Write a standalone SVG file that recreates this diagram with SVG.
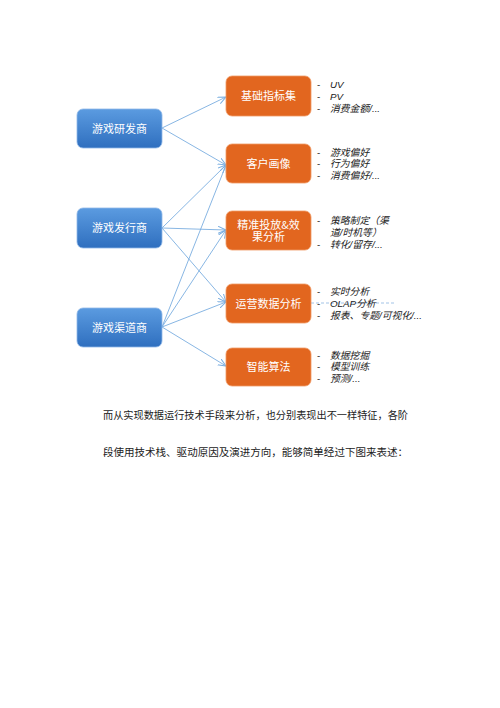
<svg xmlns="http://www.w3.org/2000/svg" width="500" height="708" viewBox="0 0 500 708">
<defs>
<linearGradient id="gb" x1="0" y1="0" x2="0" y2="1">
<stop offset="0" stop-color="#5b9be0"/>
<stop offset="1" stop-color="#2f6fbf"/>
</linearGradient>
<marker id="ar" markerWidth="10" markerHeight="8" refX="8" refY="4" orient="auto" markerUnits="userSpaceOnUse">
<path d="M0,0.5 L8,4 L0,7.5" fill="none" stroke="#7aaee0" stroke-width="1"/>
</marker>
</defs>
<style>
.blue{fill:url(#gb);stroke:#8fb8e8;stroke-width:0.8}
.org{fill:#e2661f;stroke:#f09a66;stroke-width:0.8}
.nt{font-family:"Noto Sans CJK SC","Liberation Sans",sans-serif;font-size:11px;fill:#ffffff;text-anchor:middle}
.lb{font-family:"Liberation Sans","Noto Sans CJK SC",sans-serif;font-size:9.8px;font-style:italic;fill:#222222}
.ds{font-family:"Liberation Sans",sans-serif;font-size:9.8px;fill:#222222}
.body{font-family:"Noto Sans CJK SC","Liberation Sans",sans-serif;font-size:10.2px;fill:#222222}
.ln{fill:none;stroke:#7aaee0;stroke-width:0.9;marker-end:url(#ar)}
</style>
<rect width="500" height="708" fill="#ffffff"/>
<g id="connectors">
<line class="ln" x1="162" y1="128" x2="226" y2="97"/>
<line class="ln" x1="162" y1="128" x2="226" y2="165"/>
<line class="ln" x1="162" y1="228" x2="226" y2="165"/>
<line class="ln" x1="162" y1="228" x2="226" y2="230"/>
<line class="ln" x1="162" y1="228" x2="226" y2="302"/>
<line class="ln" x1="162" y1="327" x2="226" y2="165"/>
<line class="ln" x1="162" y1="327" x2="226" y2="230"/>
<line class="ln" x1="162" y1="327" x2="226" y2="302"/>
<line class="ln" x1="162" y1="327" x2="226" y2="366"/>
<line x1="311" y1="303" x2="394" y2="303" stroke="#8ab4e0" stroke-width="0.8" stroke-dasharray="3,2"/>
</g>
<g id="n-dev"><rect class="blue" x="77" y="109" width="85" height="39" rx="6"/><text class="nt" x="119.5" y="132.5">游戏研发商</text></g>
<g id="n-pub"><rect class="blue" x="77" y="208" width="85" height="40" rx="6"/><text class="nt" x="119.5" y="232">游戏发行商</text></g>
<g id="n-chn"><rect class="blue" x="77" y="308" width="85" height="39" rx="6"/><text class="nt" x="119.5" y="331.5">游戏渠道商</text></g>
<g id="n-base"><rect class="org" x="226" y="76" width="85" height="40" rx="6"/><text class="nt" x="268.5" y="100">基础指标集</text>
<text class="ds" x="317" y="87.5">-</text><text class="lb" x="330" y="87.5">UV</text>
<text class="ds" x="317" y="99.5">-</text><text class="lb" x="330" y="99.5">PV</text>
<text class="ds" x="317" y="111.5">-</text><text class="lb" x="330" y="111.5">消费金额/...</text></g>
<g id="n-user"><rect class="org" x="226" y="144" width="85" height="39" rx="6"/><text class="nt" x="268.5" y="167.5">客户画像</text>
<text class="ds" x="317" y="155.5">-</text><text class="lb" x="330" y="155.5">游戏偏好</text>
<text class="ds" x="317" y="167">-</text><text class="lb" x="330" y="167">行为偏好</text>
<text class="ds" x="317" y="178.5">-</text><text class="lb" x="330" y="178.5">消费偏好/...</text></g>
<g id="n-ad"><rect class="org" x="226" y="211" width="85" height="39" rx="6"/><text class="nt" x="268.5" y="228.5"><tspan x="268.5">精准投放&amp;效</tspan><tspan x="268.5" dy="12.5">果分析</tspan></text>
<text class="ds" x="317" y="223.5">-</text><text class="lb" x="330" y="223.5"><tspan x="330">策略制定（渠</tspan><tspan x="330" dy="12">道/时机等）</tspan></text>
<text class="ds" x="317" y="247.5">-</text><text class="lb" x="330" y="247.5">转化/留存/...</text></g>
<g id="n-ops"><rect class="org" x="226" y="284" width="85" height="39" rx="6"/><text class="nt" x="268.5" y="307.5">运营数据分析</text>
<text class="ds" x="317" y="294.5">-</text><text class="lb" x="330" y="294.5">实时分析</text>
<text class="ds" x="317" y="306.5">-</text><text class="lb" x="330" y="306.5">OLAP分析</text>
<text class="ds" x="317" y="318.5">-</text><text class="lb" x="330" y="318.5">报表、专题/可视化/...</text></g>
<g id="n-ai"><rect class="org" x="226" y="348" width="85" height="38" rx="6"/><text class="nt" x="268.5" y="371">智能算法</text>
<text class="ds" x="317" y="358.5">-</text><text class="lb" x="330" y="358.5">数据挖掘</text>
<text class="ds" x="317" y="370">-</text><text class="lb" x="330" y="370">模型训练</text>
<text class="ds" x="317" y="381.5">-</text><text class="lb" x="330" y="381.5">预测/...</text></g>
<text class="body" x="103" y="419" textLength="305" lengthAdjust="spacingAndGlyphs">而从实现数据运行技术手段来分析，也分别表现出不一样特征，各阶</text>
<text class="body" x="103" y="456" textLength="305" lengthAdjust="spacingAndGlyphs">段使用技术栈、驱动原因及演进方向，能够简单经过下图来表述：</text>
</svg>
